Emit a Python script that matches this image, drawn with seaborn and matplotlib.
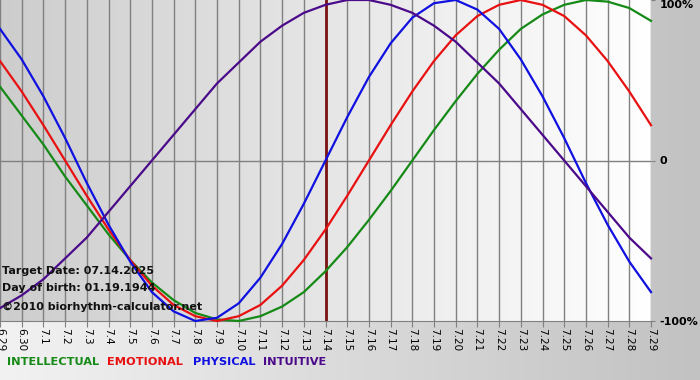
import numpy as np
import pandas as pd
import seaborn as sns
import matplotlib.pyplot as plt
from matplotlib.colors import LinearSegmentedColormap

# days shown on the chart (6.29 .. 7.29)
days = ['6.29', '6.30', '7.1', '7.2', '7.3', '7.4', '7.5', '7.6', '7.7', '7.8',
        '7.9', '7.10', '7.11', '7.12', '7.13', '7.14', '7.15', '7.16', '7.17', '7.18',
        '7.19', '7.20', '7.21', '7.22', '7.23', '7.24', '7.25', '7.26', '7.27', '7.28', '7.29']
target_day = '7.14'

# cycle values per day (1 = 100%)
intellectual = [0.46, 0.28, 0.10, -0.10, -0.28, -0.46, -0.62, -0.76, -0.87, -0.95,
                -0.99, -1.00, -0.97, -0.91, -0.82, -0.69, -0.54, -0.37, -0.19, 0.00,
                0.19, 0.37, 0.54, 0.69, 0.82, 0.91, 0.97, 1.00, 0.99, 0.95, 0.87]
emotional = [0.62, 0.43, 0.22, 0.00, -0.22, -0.43, -0.62, -0.78, -0.90, -0.97,
             -1.00, -0.97, -0.90, -0.78, -0.62, -0.43, -0.22, 0.00, 0.22, 0.43,
             0.62, 0.78, 0.90, 0.97, 1.00, 0.97, 0.90, 0.78, 0.62, 0.43, 0.22]
physical = [0.82, 0.63, 0.40, 0.14, -0.14, -0.40, -0.63, -0.82, -0.94, -1.00,
            -0.98, -0.89, -0.73, -0.52, -0.27, 0.00, 0.27, 0.52, 0.73, 0.89,
            0.98, 1.00, 0.94, 0.82, 0.63, 0.40, 0.14, -0.14, -0.40, -0.63, -0.82]
intuitive = [-0.92, -0.84, -0.74, -0.61, -0.48, -0.32, -0.16, 0.00, 0.16, 0.32,
             0.48, 0.61, 0.74, 0.84, 0.92, 0.97, 1.00, 1.00, 0.97, 0.92,
             0.84, 0.74, 0.61, 0.48, 0.32, 0.16, 0.00, -0.16, -0.32, -0.48, -0.61]

cycles = ['INTELLECTUAL', 'EMOTIONAL', 'PHYSICAL', 'INTUITIVE']
colors = {'INTELLECTUAL': '#168a16', 'EMOTIONAL': '#e81010',
          'PHYSICAL': '#1010e0', 'INTUITIVE': '#4a0a8a'}

wide = pd.DataFrame({'INTELLECTUAL': intellectual, 'EMOTIONAL': emotional,
                     'PHYSICAL': physical, 'INTUITIVE': intuitive})
wide['pos'] = range(len(days))
df = wide.melt(id_vars='pos', var_name='cycle', value_name='value')

fig = plt.figure(figsize=(7, 3.8), dpi=100)

# figure background gradient
bg = fig.add_axes([0, 0, 1, 1], zorder=-1)
bg_cmap = LinearSegmentedColormap.from_list('bg', ['#f2f2f2', '#c2c2c2'])
bg.imshow(np.linspace(0, 1, 256).reshape(1, -1), cmap=bg_cmap, aspect='auto',
          extent=(0, 1, 0, 1))
bg.axis('off')

ax = fig.add_axes([0, 1 - 321 / 380, 651 / 700, 321 / 380])
ax.set_facecolor('none')
n = len(days) - 1
plot_cmap = LinearSegmentedColormap.from_list('plot', ['#cdcdcd', '#ffffff'])
ax.imshow(np.linspace(0, 1, 256).reshape(1, -1), cmap=plot_cmap, aspect='auto',
          extent=(0, n, -1, 1), zorder=0)

sns.lineplot(data=df, x='pos', y='value', hue='cycle', hue_order=cycles,
             palette=colors, legend=False, ax=ax, linewidth=1.6, zorder=3)
for line in ax.lines:
    line.set_clip_on(False)

ax.set_xlim(0, n)
ax.set_ylim(-1, 1)

ax.set_xticks(range(len(days)))
ax.set_xticklabels(days)
ax.grid(axis='x', color='#808080', linewidth=1, zorder=1)
ax.axhline(0, color='#808080', linewidth=1, zorder=1)
ax.axvline(days.index(target_day), color='#7a1212', linewidth=2, zorder=2)
ax.tick_params(axis='x', length=4, color='#808080', pad=1, labelrotation=270,
               labelsize=7.5)

ax.yaxis.tick_right()
ax.set_yticks([-1, 0, 1])
ylabels = ax.set_yticklabels(['-100%', '0', '100%'])
for lbl in ylabels:
    lbl.set_fontweight('bold')
    lbl.set_fontsize(8)
ylabels[2].set_va('top')
ax.tick_params(axis='y', length=3, color='#808080', pad=3)

for side in ['top', 'left', 'right']:
    ax.spines[side].set_visible(False)
ax.spines['bottom'].set_color('#808080')
ax.set_xlabel('')
ax.set_ylabel('')

# info text over the plot
info = ['Target Date: 07.14.2025', 'Day of birth: 01.19.1944', '\u00a92010 biorhythm-calculator.net']
info_y = [271, 288, 307]
for txt, y in zip(info, info_y):
    fig.text(2 / 700, 1 - y / 380, txt, fontsize=8, fontweight='bold',
             va='center', ha='left', color='#111111', zorder=5)

# legend row
legend_x = [7, 107, 193, 263]
for name, x in zip(cycles, legend_x):
    fig.text(x / 700, 1 - 362 / 380, name, fontsize=8.2, fontweight='bold',
             color=colors[name], va='center', ha='left')

fig.savefig('out.png', dpi=100)
